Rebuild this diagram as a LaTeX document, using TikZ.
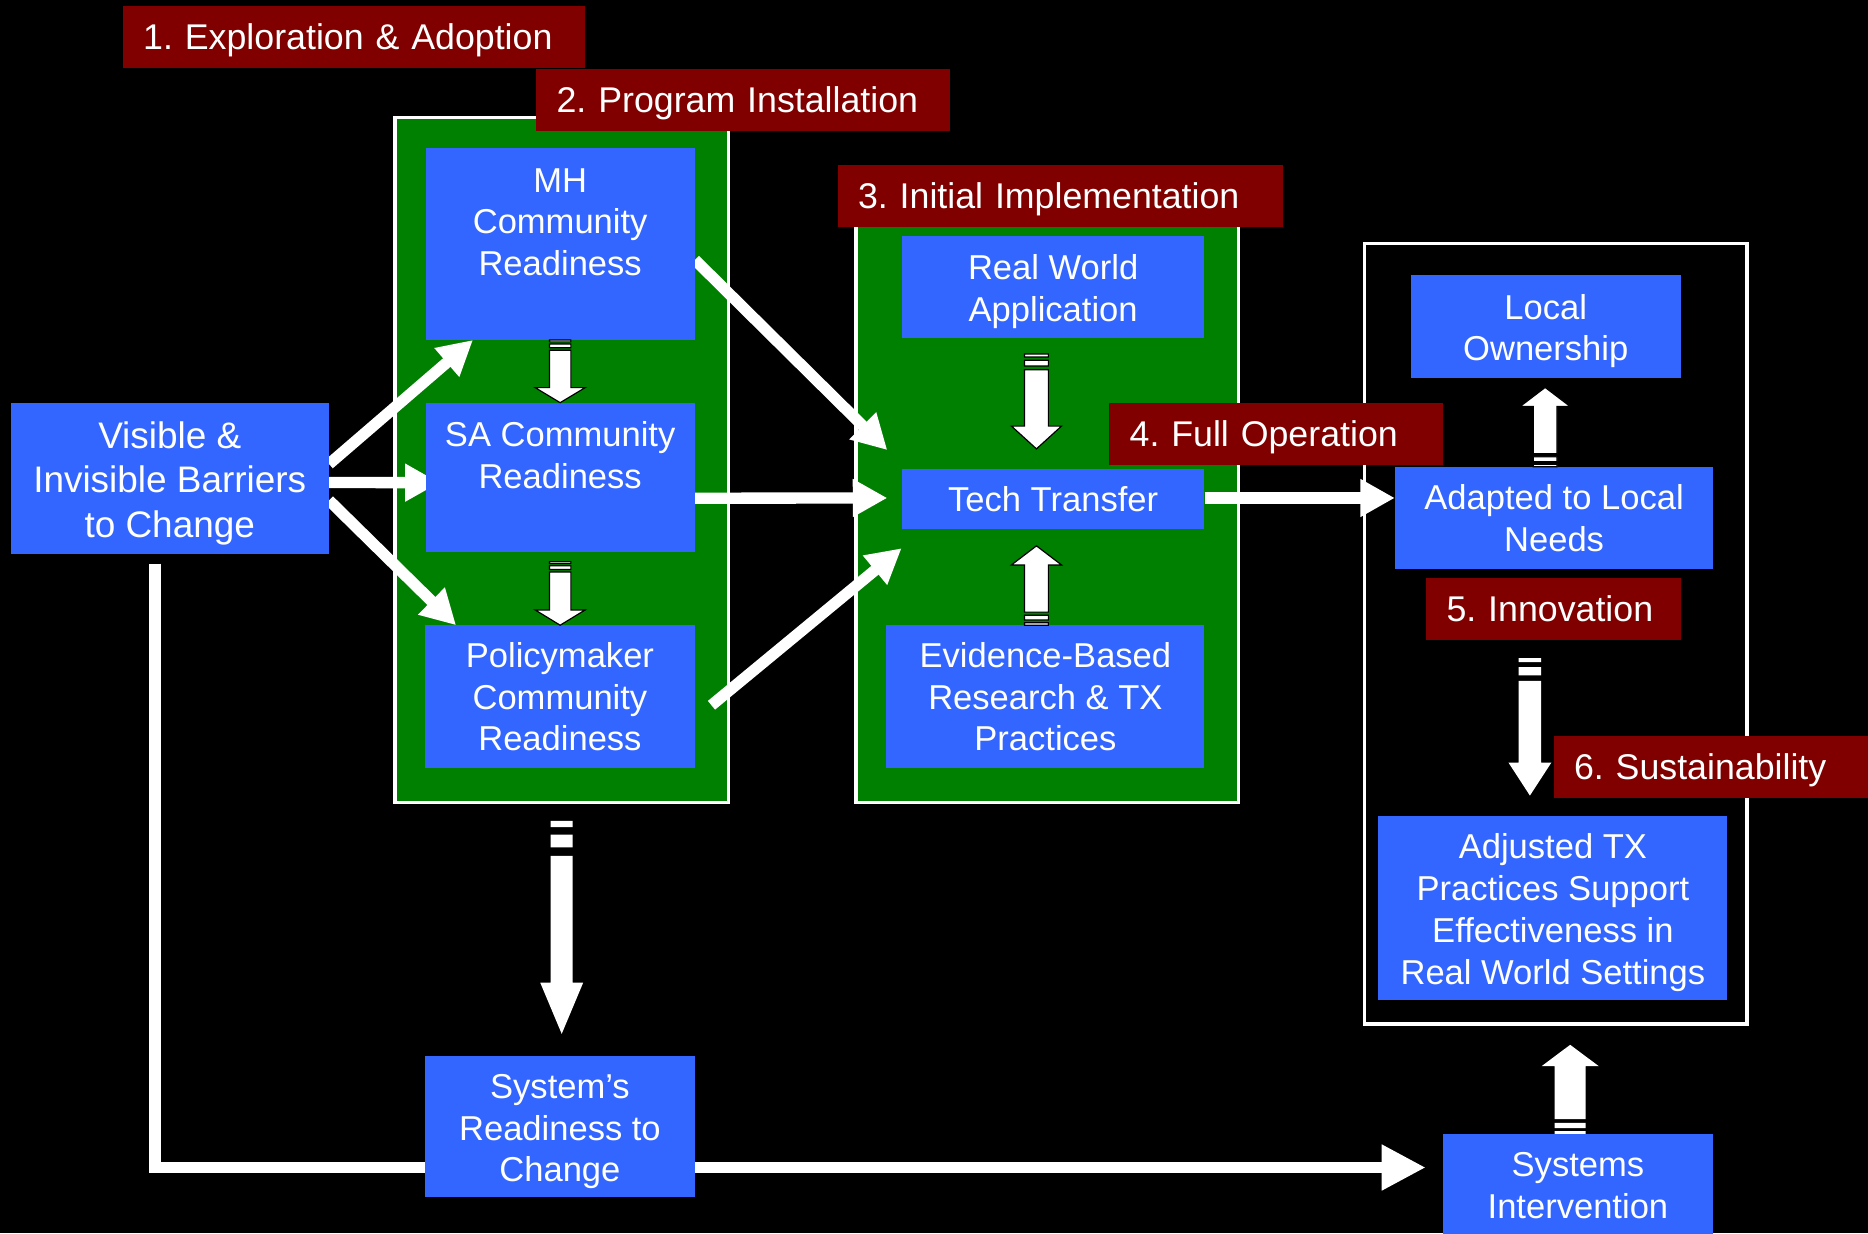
\documentclass[tikz,border=0pt]{standalone}
\usepackage{fontspec}
\setmainfont{Liberation Sans}
\usetikzlibrary{calc,arrows.meta,backgrounds}
\pgfdeclarelayer{back}
\pgfsetlayers{background,back,main}
\frenchspacing

\definecolor{boxblue}{RGB}{51,102,255}
\definecolor{panelgreen}{RGB}{0,128,0}
\definecolor{stagered}{RGB}{128,0,0}

% taller first line, so that the text sits a little lower
\newcommand{\upstrut}{\rule{0pt}{1em}}

% striped block arrow: tail, tip, half width of body, half width of head
\newcommand{\stripearrow}[5][]{%
  \path[#1] let \p1=(#2), \p2=(#3), \n1={\y2-(\y1)} in
    ({\x1-#4},{\y1}) rectangle ({\x1+#4},{\y1+0.03*(\n1)})
    ({\x1-#4},{\y1+0.065*(\n1)}) rectangle ({\x1+#4},{\y1+0.125*(\n1)})
    ({\x1-#4},{\y1+0.165*(\n1)}) -- ({\x1-#4},{\y1+0.76*(\n1)}) -- ({\x1-#5},{\y1+0.76*(\n1)})
    -- ({\x1},{\y2}) -- ({\x1+#5},{\y1+0.76*(\n1)}) -- ({\x1+#4},{\y1+0.76*(\n1)})
    -- ({\x1+#4},{\y1+0.165*(\n1)}) -- cycle;}

\begin{document}
\begin{tikzpicture}[x=1pt,y=-1pt,
  bluebox/.style={fill=boxblue, text=white, align=center, inner sep=0pt,
    font=\fontsize{29}{35}\selectfont},
  panel/.style={fill=panelgreen, draw=white, line width=3pt, anchor=north west, inner sep=0pt},
  stage/.style={fill=stagered, text=white, anchor=north west, align=left,
    inner xsep=17pt, inner ysep=0pt, minimum height=52pt, text height=26pt, text depth=5pt,
    font=\fontsize{30}{36}\selectfont},
  flow/.style={draw=white, line width=9.5pt, -{Triangle[length=29pt,width=30pt]}},
  ]

  \useasboundingbox (0,0) rectangle (1568,1035);

  \begin{pgfonlayer}{background}
    \fill[black] (0,0) rectangle (1568,1035);
    \node[panel, minimum width=280pt, minimum height=575pt] (installpanel) at (330,97) {};
    \node[panel, minimum width=321pt, minimum height=487pt] (implpanel) at (717,185) {};
    \node[panel, fill=black, minimum width=321pt, minimum height=655pt] (sustpanel) at (1144,203) {};
  \end{pgfonlayer}

  \node[bluebox, minimum width=267pt, minimum height=127pt, font=\fontsize{31}{37}\selectfont]
    (barriers) at (142.5,401.5) {\upstrut Visible \&\\Invisible Barriers\\to Change};
  \node[bluebox, anchor=north west] (mh) at (357,124)
    {\parbox[c][161pt][t]{226pt}{\centering\rule{0pt}{37pt}MH\\Community\\Readiness}};
  \node[bluebox, anchor=north west] (sa) at (357,338)
    {\parbox[c][125pt][t]{226pt}{\centering\rule{0pt}{37pt}SA Community\\Readiness}};
  \node[bluebox, minimum width=226pt, minimum height=120pt] (policy) at (470,585) {Policymaker\\Community\\Readiness};
  \node[bluebox, minimum width=254pt, minimum height=86pt] (realworld) at (884,241) {\upstrut Real World\\Application};
  \node[bluebox, minimum width=254pt, minimum height=50pt] (tech) at (884,419) {Tech Transfer};
  \node[bluebox, minimum width=267pt, minimum height=120pt] (evidence) at (877.5,585) {Evidence-Based\\Research \& TX\\Practices};
  \node[bluebox, minimum width=227pt, minimum height=86pt] (local) at (1297.5,274) {\upstrut Local\\Ownership};
  \node[bluebox, minimum width=267pt, minimum height=86pt] (adapted) at (1304.5,435) {Adapted to Local\\Needs};
  \node[bluebox, minimum width=293pt, minimum height=154pt] (adjusted) at (1303.5,762)
    {\upstrut Adjusted TX\\Practices Support\\Effectiveness in\\Real World Settings};
  \node[bluebox, minimum width=226pt, minimum height=119pt] (readiness) at (470,945.5) {\upstrut System’s\\Readiness to\\Change};
  \node[bluebox, minimum width=227pt, minimum height=86pt] (intervention) at (1324.5,995) {Systems\\Intervention};

  \begin{pgfonlayer}{back}
    \draw[flow] ([yshift=12pt]barriers.east) -- ([xshift=40pt]mh.south west);
    \draw[flow] ([yshift=-3.5pt]barriers.east) -- ([xshift=12pt,yshift=-4.5pt]sa.west);
    \draw[flow] ([yshift=-18.5pt]barriers.east) -- ([xshift=26pt]policy.north west);
    \draw[flow] ([yshift=-13.5pt]mh.east) -- ([xshift=-12pt,yshift=16pt]tech.north west);
    \draw[flow] ([yshift=-17.5pt]sa.east) -- ([xshift=-12pt,yshift=1pt]tech.west);
    \draw[flow] ([xshift=14pt,yshift=-7pt]policy.east) -- ([yshift=-16pt]tech.south west);
    \draw[flow] ([yshift=1pt]tech.east) -- ([yshift=17pt]adapted.west);
    \draw[flow, -{Triangle[length=37pt,width=36pt]}]
      ([xshift=-12.5pt,yshift=-8pt]barriers.south) |- ([xshift=-14pt,yshift=15pt]intervention.west);
  \end{pgfonlayer}

  \node[stage, text width=354pt] (explore) at (103,5) {1. Exploration \& Adoption};
  \node[stage, text width=313pt] (install) at (450,58) {2. Program Installation};
  \node[stage, text width=340pt] (initial) at (703,138) {3. Initial Implementation};
  \node[stage, text width=246pt] (fullop) at (931,338) {4. Full Operation};
  \node[stage, text width=180pt] (innov) at (1197,485) {5. Innovation};
  \node[stage, text width=230pt] (sustain) at (1304,618) {6. Sustainability};

  \stripearrow[fill=white, draw=black, line width=1pt]{mh.south}{sa.north}{9pt}{21pt}
  \stripearrow[fill=white, draw=black, line width=1pt]{[yshift=-8pt]sa.south}{policy.north}{9pt}{21pt}
  \stripearrow[fill=white, draw=black, line width=1pt]{[xshift=-14pt,yshift=-13pt]realworld.south}{[xshift=-14pt,yshift=17pt]tech.north}{10pt}{21pt}
  \stripearrow[fill=white, draw=black, line width=1pt]{[xshift=-7.5pt]evidence.north}{[xshift=-7.5pt,yshift=-14pt]tech.south}{10pt}{21pt}
  \stripearrow[fill=white, draw=black, line width=1pt]{[xshift=-7.5pt]adapted.north}{[xshift=-7.5pt,yshift=-8pt]local.south}{10pt}{21pt}
  \stripearrow[fill=white]{[yshift=-14pt]installpanel.south}{[yshift=18pt]readiness.north}{9.25pt}{18pt}
  \stripearrow[fill=white]{[xshift=-20pt,yshift=-15pt]innov.south}{[xshift=-19.5pt,yshift=17pt]adjusted.north}{9.5pt}{18pt}
  \stripearrow[fill=white]{[xshift=-6.5pt]intervention.north}{[xshift=13.5pt,yshift=-16pt]sustpanel.south}{13pt}{24pt}

\end{tikzpicture}
\end{document}
